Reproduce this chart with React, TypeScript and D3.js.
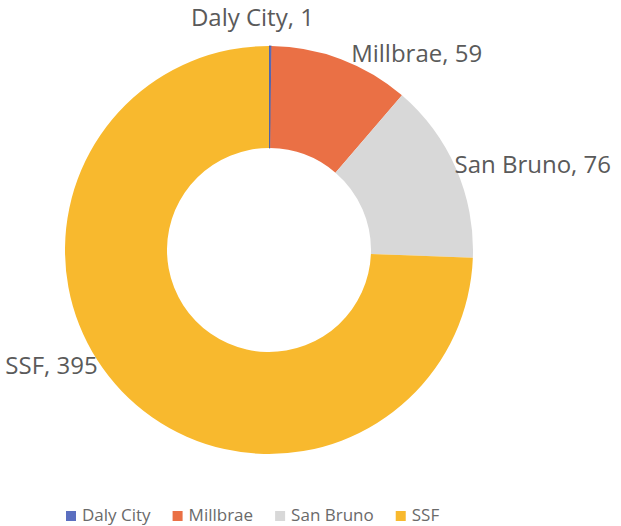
import React, { useEffect, useRef } from "react";
import * as d3 from "d3";

const categories = ["Daly City", "Millbrae", "San Bruno", "SSF"];
const values = [1, 59, 76, 395];
const colors = ["#5b6fc0", "#ea7045", "#d8d8d8", "#f8b92e"];

const App = () => {
  const svgRef = useRef<SVGSVGElement>(null);

  useEffect(() => {
    const w = 621;
    const h = 526;
    const cx = 269;
    const cy = 250;
    const outerRadius = 204;
    const innerRadius = 102;
    const labelRadius = 210;
    const font = "'Open Sans', sans-serif";

    const svg = d3.select(svgRef.current).attr("width", w).attr("height", h);
    svg.selectAll("*").remove();

    const data = categories.map((c, i) => ({ name: c, value: values[i], color: colors[i] }));

    const pie = d3.pie<any>().value((d) => d.value).sort(null);
    const arc = d3.arc<any>().innerRadius(innerRadius).outerRadius(outerRadius);

    const g = svg.append("g").attr("transform", `translate(${cx},${cy})`);

    const arcs = pie(data);

    g.selectAll("path")
      .data(arcs)
      .join("path")
      .attr("fill", (d) => d.data.color)
      .attr("d", arc);

    // thin dark edge for the tiny slice
    g.selectAll("path")
      .filter((d: any) => d.data.value < 5)
      .attr("stroke", "#4a5590")
      .attr("stroke-width", 0.8);

    // label nudges (Excel labels were moved by hand)
    const nudge: Record<string, [number, number, number]> = {
      "Daly City": [-18, 2, 22],
      Millbrae: [8, 2, 0],
      "San Bruno": [-7, 0, 0],
      SSF: [-20, -28, 0],
    };

    g.selectAll("text.label")
      .data(arcs)
      .join("text")
      .attr("class", "label")
      .each(function (d: any) {
        const mid = (d.startAngle + d.endAngle) / 2;
        const [dx, dy, dr] = nudge[d.data.name];
        const r = labelRadius + dr;
        const x = Math.sin(mid) * r + dx;
        const y = -Math.cos(mid) * r + dy;
        const anchor = Math.abs(Math.sin(mid)) < 0.1 ? "middle" : Math.sin(mid) > 0 ? "start" : "end";
        d3.select(this)
          .attr("x", x)
          .attr("y", y)
          .attr("text-anchor", anchor)
          .attr("dominant-baseline", "middle");
      })
      .attr("font-family", font)
      .attr("font-size", 24)
      .attr("fill", "#5a5a5a")
      .text((d: any) => `${d.data.name}, ${d.data.value}`);

    // legend, laid out left to right
    const legend = svg.append("g").attr("transform", "translate(66,516)");
    let x = 0;
    data.forEach((d) => {
      const item = legend.append("g").attr("transform", `translate(${x},0)`);
      item
        .append("rect")
        .attr("x", 0)
        .attr("y", -5)
        .attr("width", 10)
        .attr("height", 10)
        .attr("fill", d.color);
      const t = item
        .append("text")
        .attr("x", 16)
        .attr("y", 0)
        .attr("dominant-baseline", "middle")
        .attr("font-family", font)
        .attr("font-size", 17)
        .attr("fill", "#6a6a6a")
        .text(d.name);
      x += 16 + (t.node() as SVGTextElement).getComputedTextLength() + 22;
    });
  }, []);

  return <svg ref={svgRef} style={{ position: "absolute", left: 0, top: 0, display: "block" }} />;
};

export default App;
